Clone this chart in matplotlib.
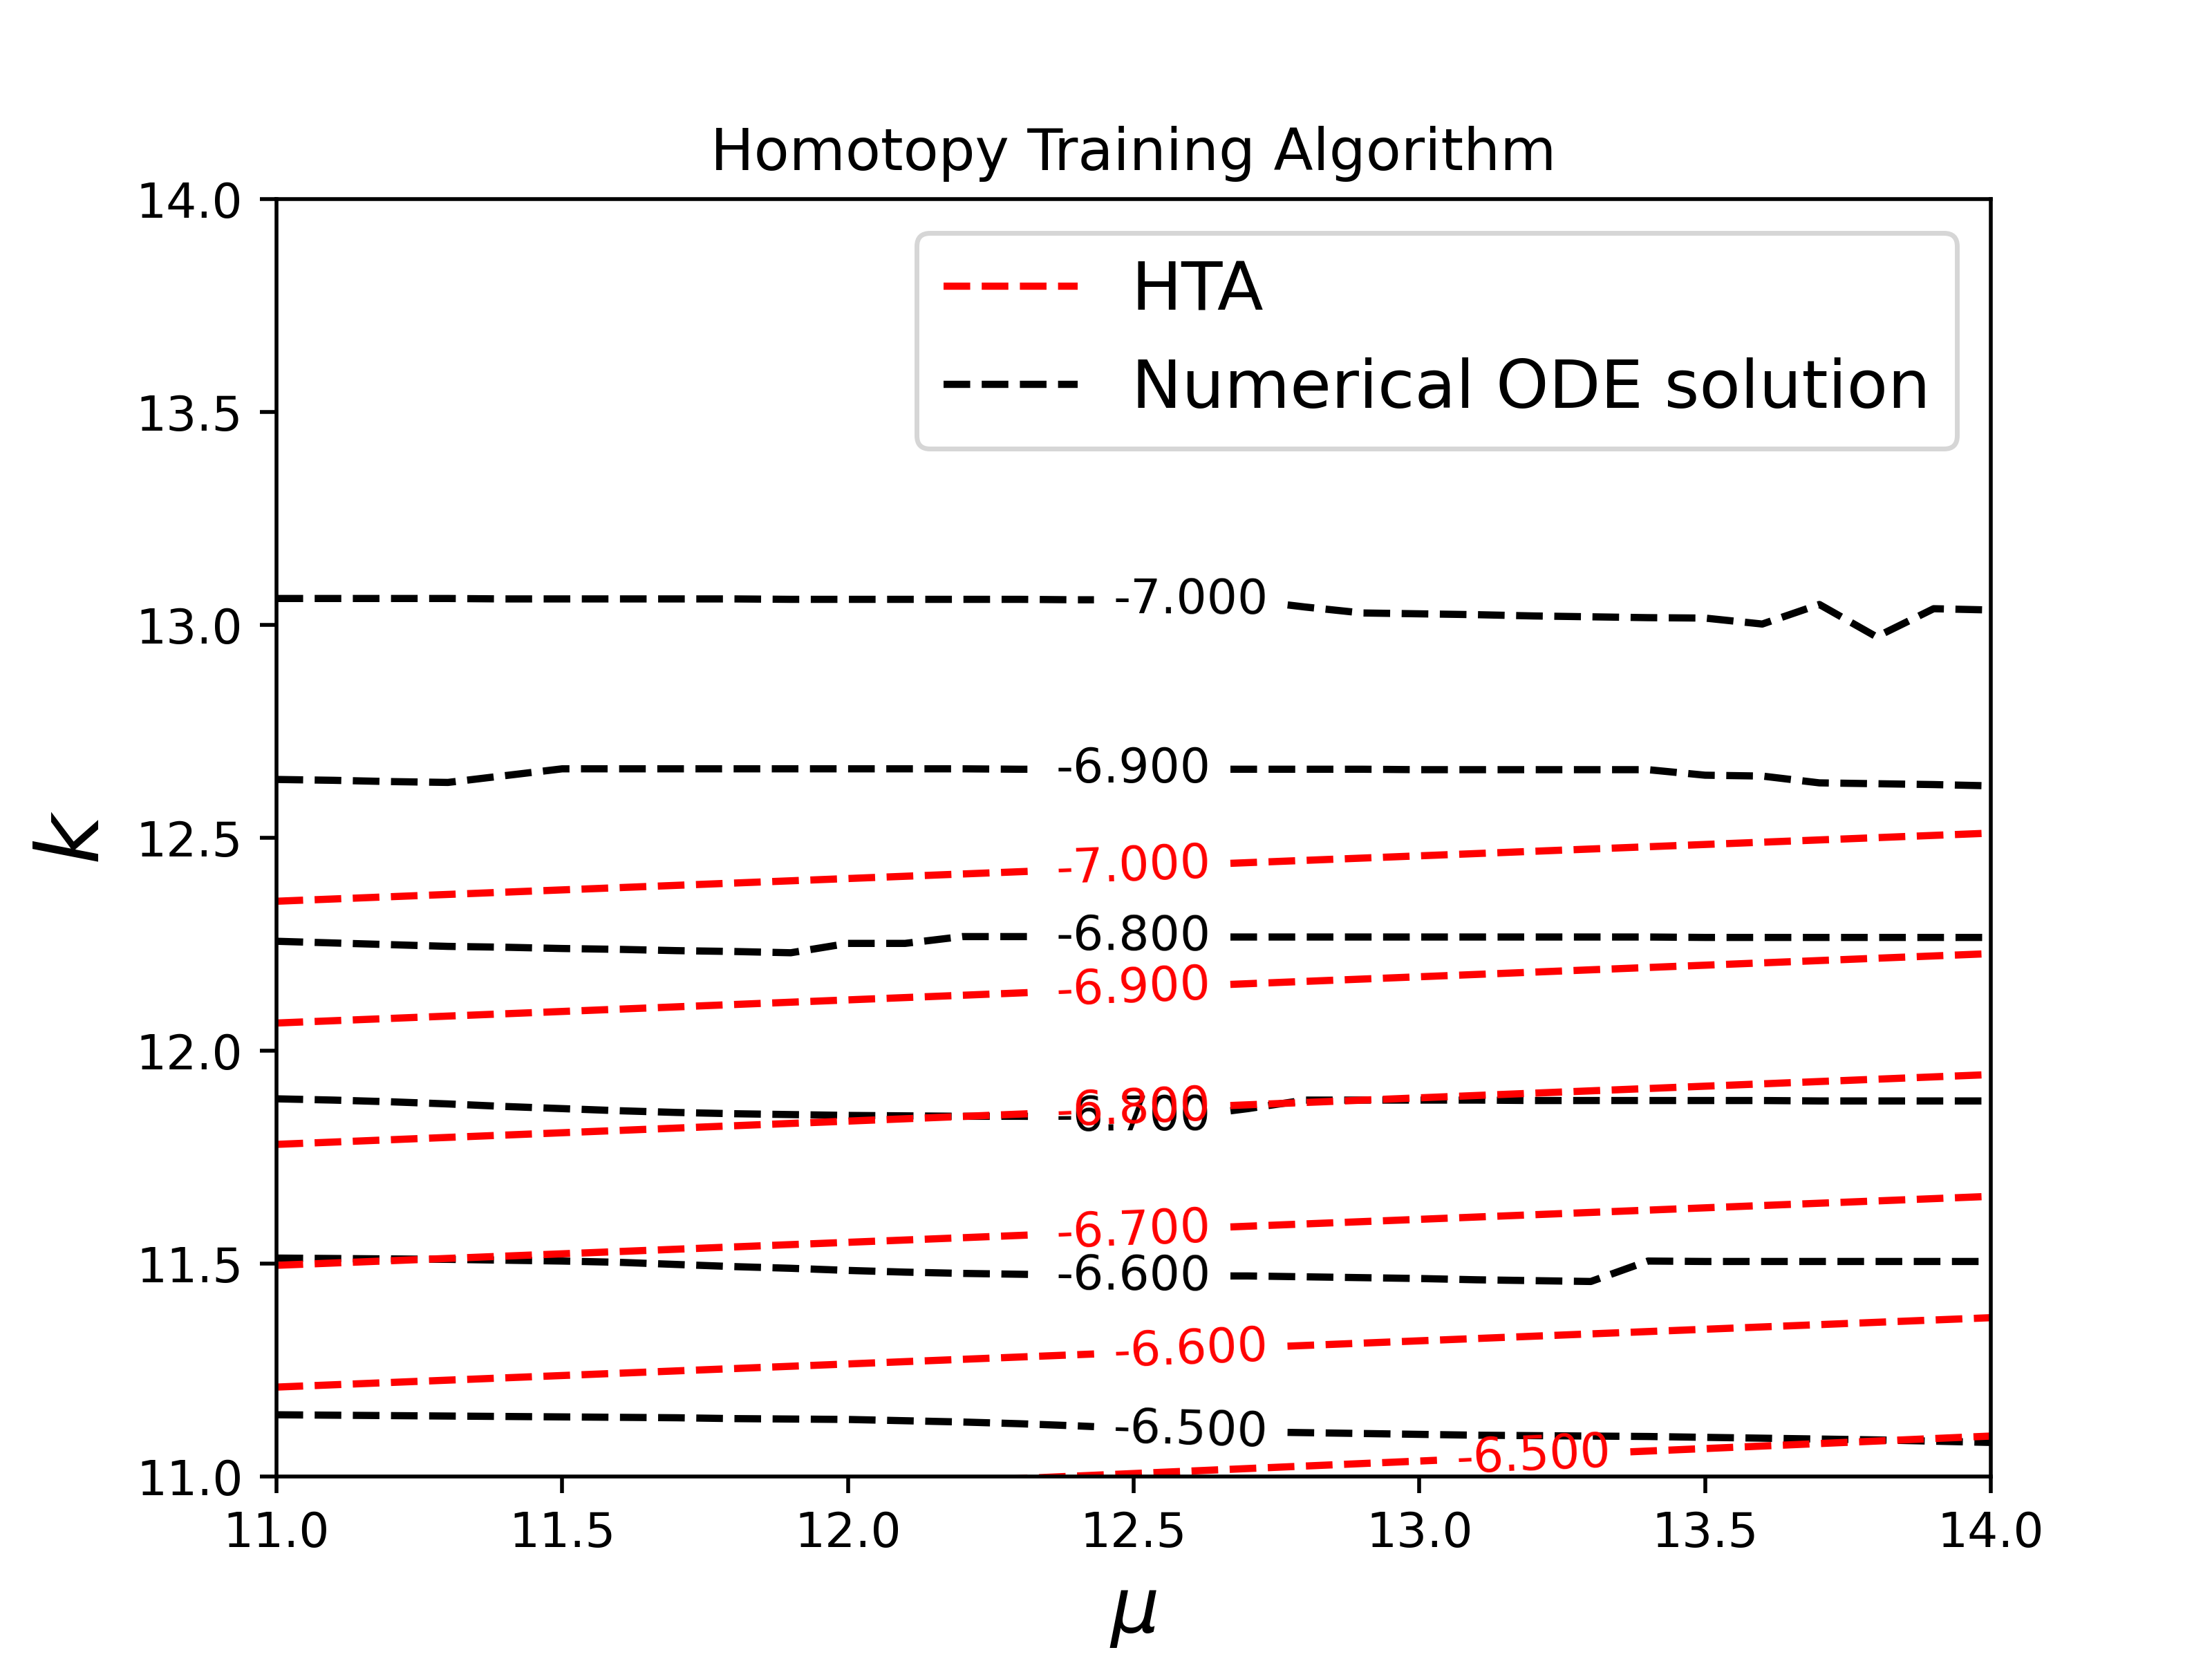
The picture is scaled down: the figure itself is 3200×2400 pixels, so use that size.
import numpy as np
import matplotlib
matplotlib.use('Agg')
import matplotlib.pyplot as plt
from matplotlib.lines import Line2D

# contour levels of both solutions
levels = [-7.0, -6.9, -6.8, -6.7, -6.6, -6.5]

# numerical ODE solution, level curves k(mu)
mu_ode = [11.0, 11.1, 11.2, 11.3, 11.4, 11.5, 11.6, 11.7, 11.8, 11.9,
          12.0, 12.1, 12.2, 12.3, 12.4, 12.5, 12.6, 12.7, 12.8, 12.9,
          13.0, 13.1, 13.2, 13.3, 13.4, 13.5, 13.6, 13.7, 13.8, 13.9, 14.0]
k_ode_700 = [13.062, 13.062, 13.062, 13.062, 13.061, 13.061, 13.061, 13.061, 13.061, 13.060,
             13.060, 13.060, 13.060, 13.060, 13.059, 13.059, 13.059, 13.058, 13.042, 13.028,
             13.026, 13.024, 13.021, 13.019, 13.017, 13.016, 13.002, 13.048, 12.972, 13.038, 13.035]
k_ode_690 = [12.637, 12.635, 12.632, 12.630, 12.646, 12.662, 12.662, 12.662, 12.662, 12.662,
             12.662, 12.662, 12.662, 12.661, 12.661, 12.661, 12.661, 12.661, 12.661, 12.661,
             12.660, 12.660, 12.660, 12.660, 12.660, 12.647, 12.645, 12.629, 12.627, 12.625, 12.622]
k_ode_680 = [12.257, 12.253, 12.249, 12.245, 12.243, 12.240, 12.238, 12.235, 12.233, 12.230,
             12.252, 12.252, 12.268, 12.268, 12.268, 12.268, 12.267, 12.267, 12.267, 12.267,
             12.267, 12.267, 12.267, 12.267, 12.267, 12.266, 12.266, 12.266, 12.266, 12.266, 12.266]
k_ode_670 = [11.887, 11.884, 11.880, 11.875, 11.869, 11.864, 11.859, 11.855, 11.852, 11.850,
             11.848, 11.847, 11.846, 11.846, 11.845, 11.845, 11.847, 11.864, 11.884, 11.884,
             11.884, 11.884, 11.883, 11.883, 11.883, 11.883, 11.883, 11.882, 11.882, 11.882, 11.882]
k_ode_660 = [11.513, 11.512, 11.511, 11.510, 11.508, 11.506, 11.503, 11.498, 11.493, 11.489,
             11.484, 11.480, 11.477, 11.475, 11.473, 11.471, 11.471, 11.471, 11.469, 11.467,
             11.465, 11.462, 11.460, 11.458, 11.506, 11.505, 11.505, 11.505, 11.505, 11.505, 11.505]
k_ode_650 = [11.145, 11.144, 11.143, 11.142, 11.141, 11.140, 11.139, 11.138, 11.136, 11.135,
             11.134, 11.131, 11.128, 11.124, 11.119, 11.113, 11.108, 11.105, 11.103, 11.101,
             11.099, 11.097, 11.096, 11.095, 11.094, 11.092, 11.090, 11.088, 11.086, 11.083, 11.080]

# HTA solution, level curves are straight lines
mu_hta = [11.0, 14.0]
k_hta_700 = [12.351, 12.511]
k_hta_690 = [12.065, 12.228]
k_hta_680 = [11.780, 11.944]
k_hta_670 = [11.496, 11.658]
k_hta_660 = [11.210, 11.373]
k_hta_650 = [10.919, 11.095]

# where the inline labels sit (mu)
label_mu_ode = [12.6, 12.5, 12.5, 12.5, 12.5, 12.6]
label_mu_hta = [12.5, 12.5, 12.5, 12.5, 12.6, 13.2]


def draw_labelled_lines(ax, renderer, mu, k_sets, label_mu, color, gap_pad=28):
    """dashed level curves with inline labels, like clabel(inline=True)"""
    mu = np.asarray(mu, dtype=float)
    x0 = ax.transData.transform((0.0, 0.0))
    x1 = ax.transData.transform((1.0, 0.0))
    px_per_mu = x1[0] - x0[0]
    for k_vals, lev, m in zip(k_sets, levels, label_mu):
        k = np.asarray(k_vals, dtype=float)
        k_lab = np.interp(m, mu, k)
        p0 = ax.transData.transform((m - 0.05, np.interp(m - 0.05, mu, k)))
        p1 = ax.transData.transform((m + 0.05, np.interp(m + 0.05, mu, k)))
        angle = np.degrees(np.arctan2(p1[1] - p0[1], p1[0] - p0[0]))

        txt = ax.text(m, k_lab, f'{lev:.3f}', color=color, fontsize=10,
                      ha='center', va='center', rotation_mode='anchor')
        width = txt.get_window_extent(renderer).width
        txt.set_rotation(angle)

        half = (width / 2 + gap_pad) * np.cos(np.radians(angle)) / px_per_mu
        m0, m1 = m - half, m + half
        left = mu < m0
        right = mu > m1
        ax.plot(np.append(mu[left], m0), np.append(k[left], np.interp(m0, mu, k)),
                color=color, linestyle='--', linewidth=1.5)
        ax.plot(np.insert(mu[right], 0, m1), np.insert(k[right], 0, np.interp(m1, mu, k)),
                color=color, linestyle='--', linewidth=1.5)


fig, ax = plt.subplots(figsize=(6.4, 4.8), dpi=500)
ax.set_xlim(11.0, 14.0)
ax.set_ylim(11.0, 14.0)
ax.set_xticks([11.0, 11.5, 12.0, 12.5, 13.0, 13.5, 14.0])
ax.set_yticks([11.0, 11.5, 12.0, 12.5, 13.0, 13.5, 14.0])

renderer = fig.canvas.get_renderer()
ode_sets = [k_ode_700, k_ode_690, k_ode_680, k_ode_670, k_ode_660, k_ode_650]
hta_sets = [k_hta_700, k_hta_690, k_hta_680, k_hta_670, k_hta_660, k_hta_650]
draw_labelled_lines(ax, renderer, mu_ode, ode_sets, label_mu_ode, 'k')
draw_labelled_lines(ax, renderer, mu_hta, hta_sets, label_mu_hta, 'r')

ax.set_title('Homotopy Training Algorithm')
ax.set_xlabel(r'$\mu$', fontsize=16)
ax.set_ylabel(r'$k$', fontsize=18)

handles = [Line2D([], [], color='r', linestyle='--', linewidth=1.5, label='HTA'),
           Line2D([], [], color='k', linestyle='--', linewidth=1.5, label='Numerical ODE solution')]
ax.legend(handles=handles, loc='upper right', fontsize=14)

fig.savefig('out.png', dpi=500)
